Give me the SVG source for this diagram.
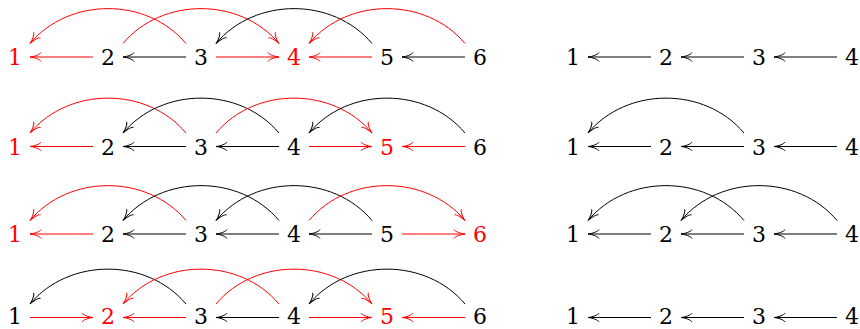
<svg xmlns="http://www.w3.org/2000/svg" width="860" height="329" viewBox="0 0 860 329">
<style>
text{font-family:"DejaVu Serif","Liberation Serif",serif;font-size:22px;text-anchor:middle}
.r{fill:#ff0000}
.k{fill:#000}
path.e{fill:none;stroke-width:1}
path.ek{stroke:#000;marker-end:url(#ak)}
path.er{stroke:#ff0000;marker-end:url(#ar)}
</style>
<defs>
<marker id="ak" markerUnits="userSpaceOnUse" viewBox="-12 -6 14 12" refX="0" refY="0" markerWidth="14" markerHeight="12" orient="auto" overflow="visible">
<path d="M-11,-4.5 C-10.2,-2.5 -4,-0.3 0,0 C-4,0.3 -10.2,2.5 -11,4.5" fill="none" stroke="#000" stroke-width="1"/>
</marker>
<marker id="ar" markerUnits="userSpaceOnUse" viewBox="-12 -6 14 12" refX="0" refY="0" markerWidth="14" markerHeight="12" orient="auto" overflow="visible">
<path d="M-11,-4.5 C-10.2,-2.5 -4,-0.3 0,0 C-4,0.3 -10.2,2.5 -11,4.5" fill="none" stroke="#ff0000" stroke-width="1"/>
</marker>
</defs>
<g id="connectors">
<path class="e er" d="M93,57 H30"/>
<path class="e ek" d="M186,57 H123"/>
<path class="e er" d="M216,57 H279"/>
<path class="e er" d="M372,57 H309"/>
<path class="e ek" d="M465,57 H402"/>
<path class="e er" d="M186,43.5 C147,-3 69,-3 30,43.5"/>
<path class="e er" d="M123,43.5 C162,-3 240,-3 279,43.5"/>
<path class="e ek" d="M372,43.5 C333,-3 255,-3 216,43.5"/>
<path class="e er" d="M465,43.5 C426,-3 348,-3 309,43.5"/>
<path class="e ek" d="M651,57 H588"/>
<path class="e ek" d="M744,57 H681"/>
<path class="e ek" d="M837,57 H774"/>
<path class="e er" d="M93,146.5 H30"/>
<path class="e ek" d="M186,146.5 H123"/>
<path class="e ek" d="M279,146.5 H216"/>
<path class="e er" d="M309,146.5 H372"/>
<path class="e er" d="M465,146.5 H402"/>
<path class="e er" d="M186,133 C147,86.5 69,86.5 30,133"/>
<path class="e ek" d="M279,133 C240,86.5 162,86.5 123,133"/>
<path class="e er" d="M216,133 C255,86.5 333,86.5 372,133"/>
<path class="e ek" d="M465,133 C426,86.5 348,86.5 309,133"/>
<path class="e ek" d="M651,146.5 H588"/>
<path class="e ek" d="M744,146.5 H681"/>
<path class="e ek" d="M837,146.5 H774"/>
<path class="e ek" d="M744,133 C705,86.5 627,86.5 588,133"/>
<path class="e er" d="M93,234 H30"/>
<path class="e ek" d="M186,234 H123"/>
<path class="e ek" d="M279,234 H216"/>
<path class="e ek" d="M372,234 H309"/>
<path class="e er" d="M402,234 H465"/>
<path class="e er" d="M186,220.5 C147,174 69,174 30,220.5"/>
<path class="e ek" d="M279,220.5 C240,174 162,174 123,220.5"/>
<path class="e ek" d="M372,220.5 C333,174 255,174 216,220.5"/>
<path class="e er" d="M309,220.5 C348,174 426,174 465,220.5"/>
<path class="e ek" d="M651,234 H588"/>
<path class="e ek" d="M744,234 H681"/>
<path class="e ek" d="M837,234 H774"/>
<path class="e ek" d="M744,220.5 C705,174 627,174 588,220.5"/>
<path class="e ek" d="M837,220.5 C798,174 720,174 681,220.5"/>
<path class="e er" d="M30,317.5 H93"/>
<path class="e er" d="M186,317.5 H123"/>
<path class="e ek" d="M279,317.5 H216"/>
<path class="e er" d="M309,317.5 H372"/>
<path class="e er" d="M465,317.5 H402"/>
<path class="e ek" d="M186,304 C147,257.5 69,257.5 30,304"/>
<path class="e er" d="M279,304 C240,257.5 162,257.5 123,304"/>
<path class="e er" d="M216,304 C255,257.5 333,257.5 372,304"/>
<path class="e ek" d="M465,304 C426,257.5 348,257.5 309,304"/>
<path class="e ek" d="M651,317.5 H588"/>
<path class="e ek" d="M744,317.5 H681"/>
<path class="e ek" d="M837,317.5 H774"/>
</g>
<g id="a1-1"><text class="r" x="15" y="65">1</text></g>
<g id="a1-2"><text class="k" x="108" y="65">2</text></g>
<g id="a1-3"><text class="k" x="201" y="65">3</text></g>
<g id="a1-4"><text class="r" x="294" y="65">4</text></g>
<g id="a1-5"><text class="k" x="387" y="65">5</text></g>
<g id="a1-6"><text class="k" x="480" y="65">6</text></g>
<g id="b1-1"><text class="k" x="573" y="65">1</text></g>
<g id="b1-2"><text class="k" x="666" y="65">2</text></g>
<g id="b1-3"><text class="k" x="759" y="65">3</text></g>
<g id="b1-4"><text class="k" x="852" y="65">4</text></g>
<g id="a2-1"><text class="r" x="15" y="154.5">1</text></g>
<g id="a2-2"><text class="k" x="108" y="154.5">2</text></g>
<g id="a2-3"><text class="k" x="201" y="154.5">3</text></g>
<g id="a2-4"><text class="k" x="294" y="154.5">4</text></g>
<g id="a2-5"><text class="r" x="387" y="154.5">5</text></g>
<g id="a2-6"><text class="k" x="480" y="154.5">6</text></g>
<g id="b2-1"><text class="k" x="573" y="154.5">1</text></g>
<g id="b2-2"><text class="k" x="666" y="154.5">2</text></g>
<g id="b2-3"><text class="k" x="759" y="154.5">3</text></g>
<g id="b2-4"><text class="k" x="852" y="154.5">4</text></g>
<g id="a3-1"><text class="r" x="15" y="242">1</text></g>
<g id="a3-2"><text class="k" x="108" y="242">2</text></g>
<g id="a3-3"><text class="k" x="201" y="242">3</text></g>
<g id="a3-4"><text class="k" x="294" y="242">4</text></g>
<g id="a3-5"><text class="k" x="387" y="242">5</text></g>
<g id="a3-6"><text class="r" x="480" y="242">6</text></g>
<g id="b3-1"><text class="k" x="573" y="242">1</text></g>
<g id="b3-2"><text class="k" x="666" y="242">2</text></g>
<g id="b3-3"><text class="k" x="759" y="242">3</text></g>
<g id="b3-4"><text class="k" x="852" y="242">4</text></g>
<g id="a4-1"><text class="k" x="15" y="323.5">1</text></g>
<g id="a4-2"><text class="r" x="108" y="323.5">2</text></g>
<g id="a4-3"><text class="k" x="201" y="323.5">3</text></g>
<g id="a4-4"><text class="k" x="294" y="323.5">4</text></g>
<g id="a4-5"><text class="r" x="387" y="323.5">5</text></g>
<g id="a4-6"><text class="k" x="480" y="323.5">6</text></g>
<g id="b4-1"><text class="k" x="573" y="323.5">1</text></g>
<g id="b4-2"><text class="k" x="666" y="323.5">2</text></g>
<g id="b4-3"><text class="k" x="759" y="323.5">3</text></g>
<g id="b4-4"><text class="k" x="852" y="323.5">4</text></g>
</svg>
